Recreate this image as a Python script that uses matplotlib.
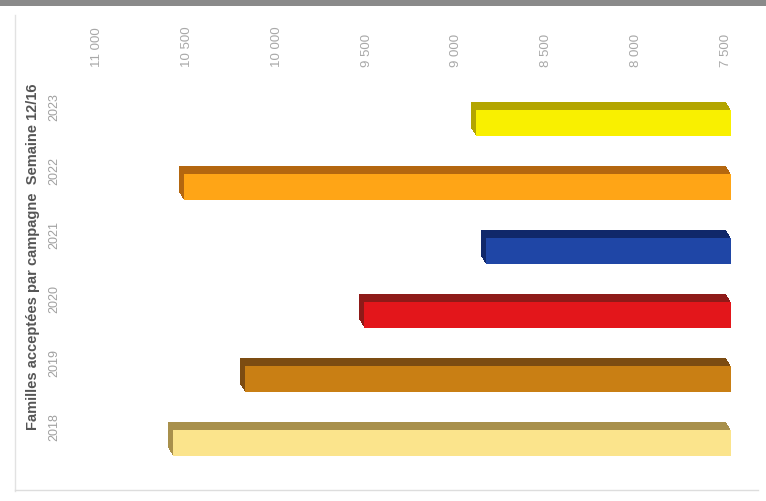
import matplotlib.pyplot as plt
import matplotlib.transforms as mtransforms
from matplotlib.lines import Line2D
from matplotlib.patches import Rectangle

# data
years = ['2018', '2019', '2020', '2021', '2022', '2023']
families = [10605, 10205, 9540, 8865, 10545, 8920]
front_colors = ['#FBE48C', '#C97F14', '#E3161B', '#1F46A6', '#FFA516', '#F9F000']
top_colors = ['#A8904C', '#7C4C12', '#8E1A18', '#10286A', '#B4670F', '#B3A500']
tick_values = [11000, 10500, 10000, 9500, 9000, 8500, 8000, 7500]
base = 7500

plt.rcParams['font.family'] = ['Liberation Sans', 'DejaVu Sans']

fig = plt.figure(figsize=(7.66, 5.01), dpi=100)
ax = fig.add_axes([0.081, 0.042, 0.898, 0.788])

pos = list(range(len(years)))
widths = [v - base for v in families]
h = 0.41

# 3D look: extrude the bar from the back face (up-left) to the front face
steps = 8
for k in range(steps + 1):
    dx = 5 * k / steps
    dy = -8 * k / steps
    tr = mtransforms.offset_copy(ax.transData, fig=fig, x=dx, y=dy, units='dots')
    cols = front_colors if k == steps else top_colors
    ax.barh(pos, widths, left=base, height=h, color=cols, edgecolor='none',
            transform=tr, zorder=2 + k)

ax.set_xlim(11194, 7367)
ax.set_ylim(-0.70, 5.47)

ax.xaxis.tick_top()
ax.set_xticks(tick_values)
ax.set_xticklabels([f'{v:,}'.replace(',', ' ') for v in tick_values],
                   rotation=90, fontsize=9.5, color='#a8a8a8')
ax.tick_params(axis='x', length=0, pad=13)

ax.set_yticks(pos)
ax.set_yticklabels(years, rotation=90, fontsize=9, color='#a0a0a0', va='center')
ax.tick_params(axis='y', length=0, pad=1)
shift = mtransforms.ScaledTranslation(0, 6 / 72, fig.dpi_scale_trans)
for lab in ax.get_yticklabels():
    lab.set_transform(lab.get_transform() + shift)

for s in ax.spines.values():
    s.set_visible(False)

fig.text(33 / 766, 0.487, 'Familles acceptées par campagne  Semaine 12/16',
         rotation=90, ha='center', va='center', fontsize=10.5,
         fontweight='bold', color='#555555')

# scan frame
fig.add_artist(Rectangle((0, 0.988), 1, 0.012, transform=fig.transFigure,
                         color='#8a8a8a', lw=0))
fig.add_artist(Line2D([0.02, 0.02], [0.02, 0.97], transform=fig.transFigure,
                      color='#e2e2e2', lw=1))
fig.add_artist(Line2D([0.02, 0.99], [0.022, 0.022], transform=fig.transFigure,
                      color='#dddddd', lw=1))

fig.savefig('out.png', dpi=100)
